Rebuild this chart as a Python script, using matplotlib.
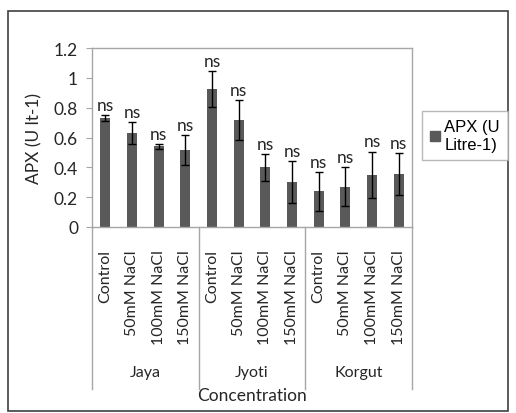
import matplotlib
matplotlib.use("Agg")
import matplotlib.pyplot as plt
import matplotlib.transforms as mtransforms
from matplotlib.patches import Rectangle, Patch

# Data
varieties = ["Jaya", "Jyoti", "Korgut"]
treatments = ["Control", "50mM NaCl", "100mM NaCl", "150mM NaCl"]
apx = [0.73, 0.63, 0.54, 0.516,
       0.925, 0.717, 0.40, 0.30,
       0.24, 0.27, 0.35, 0.355]
apx_err = [0.02, 0.075, 0.015, 0.10,
           0.12, 0.135, 0.09, 0.14,
           0.13, 0.13, 0.155, 0.14]
sig = ["ns"] * 12

W, H = 516, 414
plt.rcParams["font.family"] = ["Lato", "DejaVu Sans"]

fig = plt.figure(figsize=(W / 100, H / 100), dpi=100)
ax = fig.add_axes([92 / W, (H - 228) / H, (412 - 92) / W, (228 - 49) / H])

bar_color = "#595959"
line_gray = "#a6a6a6"
txt = "#262626"

x = [i + 0.5 for i in range(len(apx))]
ax.bar(x, apx, width=0.37, color=bar_color, zorder=2)
ax.errorbar(x, apx, yerr=apx_err, fmt="none", ecolor="black",
            elinewidth=1, capsize=3, capthick=1, zorder=3)

for xi, v, e, s in zip(x, apx, apx_err, sig):
    ax.text(xi, v + e + 0.015, s, ha="center", va="bottom", fontsize=12.5,
            color=txt)

ax.set_xlim(0, 12)
ax.set_ylim(0, 1.2)
ax.set_yticks([0, 0.2, 0.4, 0.6, 0.8, 1.0, 1.2])
ax.set_yticklabels(["0", "0.2", "0.4", "0.6", "0.8", "1", "1.2"])
ax.tick_params(axis="y", length=4, color=line_gray, labelsize=12.5,
               labelcolor=txt, pad=6)

ax.set_xticks(x)
ax.set_xticklabels(treatments * 3, rotation=90, fontsize=11.5, color=txt)
ax.tick_params(axis="x", length=0, pad=16)

for side in ["top", "left", "right", "bottom"]:
    ax.spines[side].set_color(line_gray)
    ax.spines[side].set_linewidth(1)

# category separators below the axis
trans = mtransforms.blended_transform_factory(ax.transData, ax.transAxes)
sep_bottom = -(390 - 228) / (228 - 49)
for xs in [0, 4, 8, 12]:
    ax.plot([xs, xs], [0, sep_bottom], transform=trans, color=line_gray,
            lw=1, clip_on=False)

for gi, name in enumerate(varieties):
    ax.text(gi * 4 + 2, -(373 - 228) / (228 - 49), name, transform=trans,
            ha="center", va="center", fontsize=11.5, color=txt)

ax.text(6, -(396 - 228) / (228 - 49), "Concentration", transform=trans,
        ha="center", va="center", fontsize=12.5, color=txt)

ax.set_ylabel("APX (U lt-1)", fontsize=12.5, color=txt, labelpad=8)

leg = fig.legend(handles=[Patch(color=bar_color)], labels=["APX (U\nLitre-1)"],
                 loc="upper left", bbox_to_anchor=(422 / W, 1 - 112 / H),
                 borderaxespad=0, frameon=True, fancybox=False,
                 edgecolor=line_gray,
                 handlelength=0.55, handleheight=0.55, handletextpad=0.3,
                 borderpad=0.5, labelspacing=0.2,
                 prop={"family": "Liberation Sans", "size": 12})
leg.get_frame().set_linewidth(1)

# outer chart border
fig.patches.append(Rectangle((8 / W, 2 / H), 500 / W, 400 / H,
                             transform=fig.transFigure, fill=False,
                             edgecolor="#404040", lw=1.2))

fig.savefig("out.png", dpi=100)
